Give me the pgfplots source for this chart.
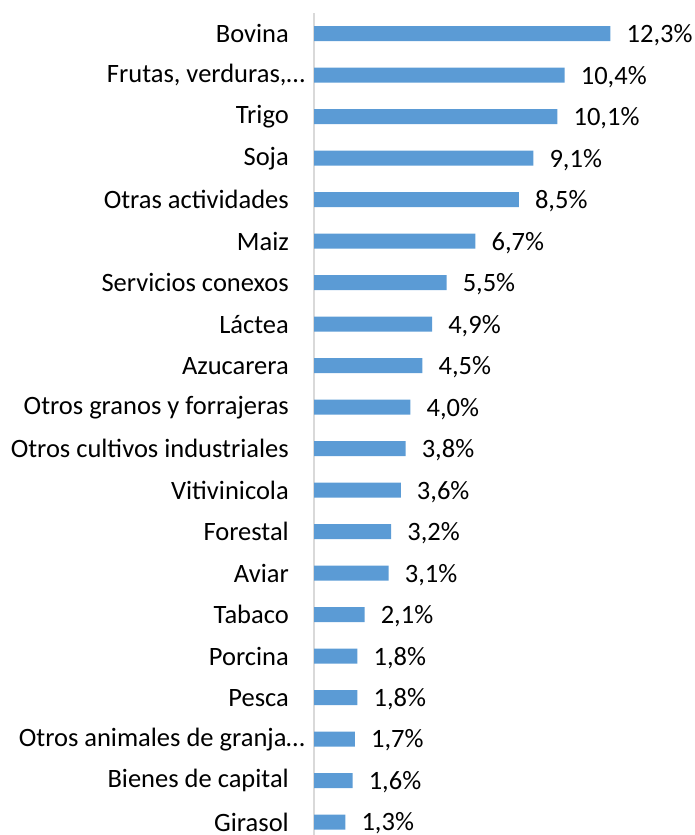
\documentclass[border=0pt]{standalone}
\usepackage{pgfplots}
\pgfplotsset{compat=1.18}
\usepackage{fontspec}
\setmainfont{Carlito}
\definecolor{barblue}{HTML}{5B9BD5}
\definecolor{axgray}{HTML}{D9D9D9}
\begin{document}
\begin{tikzpicture}
\useasboundingbox (0pt,0pt) rectangle (695pt,835pt);
\begin{axis}[
  at={(314pt,0pt)}, anchor=south west,
  scale only axis,
  width=361.5pt, height=822pt,
  xmin=0, xmax=15,
  ymin=-0.31, ymax=19.5,
  xbar, bar width=15pt,
  axis x line=none,
  axis y line*=left,
  y axis line style={draw=axgray, line width=1.6pt},
  ytick={0,...,19},
  yticklabels={Girasol, Bienes de capital, {Otros animales de granja…\kern-16pt}, Pesca, Porcina, Tabaco, Aviar, Forestal, Vitivinicola, Otros cultivos industriales, Otros granos y forrajeras, Azucarera, Láctea, Servicios conexos, Maiz, Otras actividades, Soja, Trigo, {Frutas, verduras,…\kern-16pt}, Bovina},
  major tick length=0pt,
  ytick style={draw=none},
  yticklabel style={font=\fontsize{26.5}{30}\selectfont, inner sep=0pt, xshift=-25pt, text=black},
  /pgf/number format/assume math mode=true,
  nodes near coords={\pgfmathprintnumber[fixed,fixed zerofill,precision=1,use comma]{\pgfplotspointmeta}\%},
  nodes near coords style={font=\fontsize{26.5}{30}\selectfont, anchor=west, inner sep=0pt, xshift=16pt, yshift=-1.5pt, text=black},
  clip=false,
]
\addplot[fill=barblue, draw=none] coordinates {
(1.3,0) (1.6,1) (1.7,2) (1.8,3) (1.8,4) (2.1,5) (3.1,6) (3.2,7) (3.6,8) (3.8,9)
(4.0,10) (4.5,11) (4.9,12) (5.5,13) (6.7,14) (8.5,15) (9.1,16) (10.1,17) (10.4,18) (12.3,19)
};
\end{axis}
\end{tikzpicture}
\end{document}
